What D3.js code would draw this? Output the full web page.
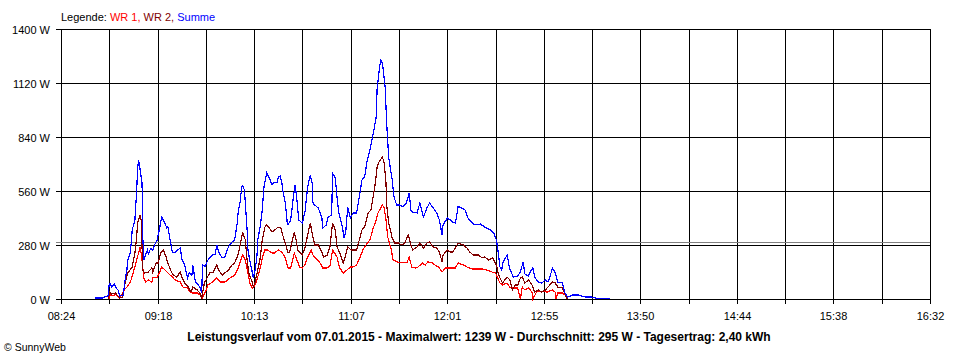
<!DOCTYPE html>
<html>
<head>
<meta charset="utf-8">
<script src="https://cdn.jsdelivr.net/npm/d3@7"></script>
<style>
  html, body { margin: 0; padding: 0; background: #fff; }
  svg { display: block; }
  text { font-family: "Liberation Sans", Arial, sans-serif; }
</style>
</head>
<body>
<svg id="chart" width="960" height="360"></svg>
<script>
// ---------------- DATA ----------------
const day = "2015-01-07";
const timeStart = "08:24:00";
const timeEnd = "16:32:00";
const xTickLabels = ["08:24", "09:18", "10:13", "11:07", "12:01", "12:55", "13:50", "14:44", "15:38", "16:32"];
const yTicks = [0, 280, 560, 840, 1120, 1400];
const yTickLabels = ["0 W", "280 W", "560 W", "840 W", "1120 W", "1400 W"];
const seriesNames = ["WR 1", "WR 2", "Summe"];
const average = 295;
const maxValue = 1239;
const dailyYield = "2,40 kWh";

const wr1 = [
  ["08:51:00",0],["08:51:30",21],["08:53:00",16],["08:55:00",26],["08:56:00",10],["08:57:00",5],
  ["08:59:30",47],["09:01:00",62],["09:03:00",88],["09:04:30",135],["09:06:30",202],["09:08:00",254],
  ["09:08:30",270],["09:09:30",202],["09:10:30",109],["09:11:30",88],["09:13:00",99],["09:15:00",88],
  ["09:15:30",109],["09:18:00",114],["09:19:30",140],["09:20:30",166],["09:22:30",150],["09:24:00",135],
  ["09:26:30",114],["09:28:00",99],["09:31:00",88],["09:32:30",62],["09:35:00",57],["09:36:30",36],
  ["09:38:00",31],["09:40:30",31],["09:42:00",21],["09:43:30",5],["09:45:30",47],["09:46:30",73],
  ["09:49:00",88],["09:51:30",109],["09:53:30",88],["09:56:00",88],["09:59:00",109],["10:01:30",124],
  ["10:03:30",161],["10:05:00",202],["10:06:00",228],["10:07:30",202],["10:09:00",135],["10:10:00",83],
  ["10:11:30",57],["10:13:00",73],["10:14:30",114],["10:16:30",187],["10:17:30",228],["10:18:30",254],
  ["10:20:00",254],["10:22:30",239],["10:24:00",239],["10:26:00",254],["10:28:00",244],["10:30:00",213],
  ["10:31:30",161],["10:33:00",161],["10:35:00",239],["10:36:30",202],["10:38:00",166],["10:39:30",161],
  ["10:41:00",176],["10:42:30",218],["10:44:30",254],["10:45:30",228],["10:48:00",202],["10:49:30",187],
  ["10:51:00",161],["10:53:30",161],["10:55:00",170],["10:56:30",254],["10:59:00",218],["11:00:30",161],
  ["11:02:30",135],["11:04:30",150],["11:06:30",166],["11:08:00",166],["11:10:00",176],["11:12:00",218],
  ["11:13:30",254],["11:16:00",290],["11:17:30",306],["11:19:00",358],["11:21:00",410],["11:22:00",446],
  ["11:24:30",487],["11:25:30",472],["11:26:30",410],["11:27:30",321],["11:29:30",254],["11:30:30",202],
  ["11:33:00",192],["11:36:00",187],["11:38:30",192],["11:39:30",218],["11:41:00",166],["11:43:00",161],
  ["11:44:30",166],["11:47:00",187],["11:48:30",176],["11:50:00",192],["11:52:30",187],["11:54:00",176],
  ["11:56:00",166],["11:58:00",140],["12:00:00",161],["12:02:30",161],["12:05:30",161],["12:07:00",187],
  ["12:10:00",176],["12:12:00",166],["12:15:00",156],["12:18:00",156],["12:20:30",156],["12:23:00",150],
  ["12:26:00",140],["12:28:00",135],["12:29:00",114],["12:30:30",83],["12:32:00",73],["12:34:30",83],
  ["12:36:00",62],["12:38:00",57],["12:40:30",57],["12:42:00",0],["12:43:00",62],["12:44:30",47],
  ["12:46:30",57],["12:48:30",36],["12:49:00",0],["12:51:00",36],["12:54:00",41],["12:57:00",36],
  ["13:00:00",47],["13:01:30",36],["13:02:00",0],["13:03:00",31],["13:05:30",31],["13:07:00",21],
  ["13:08:00",5]
];

const wr2 = [
  ["08:50:30",0],["08:51:30",36],["08:52:30",26],["08:54:30",31],["08:56:00",16],["08:57:00",5],
  ["08:58:30",10],["09:00:00",83],["09:01:30",135],["09:04:00",166],["09:05:30",239],["09:06:30",321],
  ["09:07:00",394],["09:08:30",436],["09:09:00",410],["09:09:30",270],["09:10:00",150],["09:11:00",135],
  ["09:13:00",140],["09:15:00",161],["09:15:30",140],["09:17:30",187],["09:18:30",187],["09:20:00",239],
  ["09:21:30",254],["09:23:00",218],["09:24:00",187],["09:26:00",140],["09:27:00",124],["09:29:00",114],
  ["09:31:00",140],["09:32:00",109],["09:33:30",83],["09:35:30",62],["09:37:00",36],["09:38:00",62],
  ["09:40:30",47],["09:42:00",31],["09:43:00",5],["09:44:30",83],["09:46:00",109],["09:47:30",135],
  ["09:49:30",140],["09:51:30",176],["09:52:30",150],["09:54:30",124],["09:56:00",135],["09:58:00",150],
  ["10:00:00",176],["10:01:30",187],["10:03:00",218],["10:04:00",254],["10:05:30",321],["10:06:00",347],
  ["10:07:30",306],["10:08:30",202],["10:09:30",135],["10:11:30",83],["10:12:00",62],["10:13:00",88],
  ["10:14:30",150],["10:16:00",218],["10:17:00",306],["10:18:30",373],["10:19:30",384],["10:21:00",368],
  ["10:22:30",347],["10:24:00",358],["10:26:00",373],["10:27:30",368],["10:28:30",332],["10:30:30",270],
  ["10:31:30",239],["10:32:30",244],["10:33:30",290],["10:35:00",347],["10:36:00",306],["10:37:00",254],
  ["10:39:30",228],["10:41:00",264],["10:42:30",332],["10:44:00",394],["10:45:00",342],["10:46:30",280],
  ["10:48:30",280],["10:50:30",244],["10:51:30",218],["10:53:30",228],["10:55:00",270],["10:56:30",394],
  ["10:58:00",358],["10:59:00",270],["11:00:30",239],["11:02:30",187],["11:03:30",213],["11:05:00",270],
  ["11:07:00",254],["11:10:00",254],["11:11:30",306],["11:13:00",358],["11:14:30",373],["11:16:30",446],
  ["11:18:00",461],["11:19:00",513],["11:20:30",601],["11:21:30",684],["11:22:30",710],["11:24:30",736],
  ["11:25:30",705],["11:26:30",601],["11:27:00",477],["11:28:00",394],["11:30:00",316],["11:31:30",290],
  ["11:33:30",290],["11:35:30",280],["11:37:00",290],["11:39:00",332],["11:40:30",280],["11:41:30",254],
  ["11:44:00",270],["11:45:30",290],["11:47:30",264],["11:49:30",290],["11:51:00",296],["11:53:00",270],
  ["11:55:00",264],["11:56:30",244],["11:58:00",192],["11:58:30",228],["12:01:00",254],["12:02:30",244],
  ["12:04:00",244],["12:07:00",290],["12:10:00",280],["12:12:00",264],["12:13:30",244],["12:15:30",228],
  ["12:18:30",228],["12:20:30",213],["12:22:00",218],["12:24:00",202],["12:26:30",213],["12:27:00",202],
  ["12:28:30",176],["12:29:30",135],["12:30:30",109],["12:32:00",83],["12:34:30",114],["12:36:00",99],
  ["12:37:30",47],["12:39:00",73],["12:40:30",73],["12:42:00",109],["12:43:00",114],["12:44:30",83],
  ["12:46:30",99],["12:48:30",73],["12:50:00",36],["12:52:00",47],["12:54:00",36],["12:56:00",47],
  ["12:57:30",62],["13:00:00",88],["13:01:30",83],["13:03:00",62],["13:05:30",57],["13:07:00",26],
  ["13:08:00",5],["13:08:30",0]
];

const summe = [
  ["08:43:00",5],["08:47:30",5],["08:48:30",10],["08:50:30",16],["08:51:00",73],["08:51:30",83],
  ["08:52:30",62],["08:54:00",78],["08:55:00",57],["08:56:00",47],["08:57:00",16],["08:59:00",21],
  ["09:00:00",99],["09:01:00",150],["09:01:30",202],["09:03:00",244],["09:04:00",358],["09:05:30",410],
  ["09:06:30",565],["09:07:00",669],["09:07:30",720],["09:08:00",700],["09:09:30",601],["09:10:00",306],
  ["09:10:30",202],["09:12:30",254],["09:13:00",233],["09:14:30",264],["09:15:30",254],["09:17:00",290],
  ["09:18:00",306],["09:19:30",373],["09:20:30",425],["09:22:00",399],["09:23:30",368],["09:24:00",375],
  ["09:25:00",321],["09:26:30",244],["09:28:00",239],["09:29:30",254],["09:31:00",264],["09:32:00",202],
  ["09:33:30",176],["09:35:00",109],["09:36:00",135],["09:37:30",124],["09:38:00",176],["09:39:30",88],
  ["09:41:00",73],["09:42:00",62],["09:43:00",31],["09:43:30",176],["09:45:00",170],["09:46:30",202],
  ["09:49:00",228],["09:50:30",233],["09:51:30",280],["09:52:30",244],["09:54:30",213],["09:56:00",218],
  ["09:58:00",270],["10:00:00",296],["10:01:30",306],["10:03:00",394],["10:03:30",451],["10:04:30",498],
  ["10:05:30",581],["10:06:00",586],["10:07:00",565],["10:07:30",498],["10:08:30",358],["10:09:00",254],
  ["10:10:00",202],["10:11:30",135],["10:12:00",109],["10:13:00",150],["10:14:00",218],["10:14:30",306],
  ["10:16:00",384],["10:17:00",461],["10:18:00",581],["10:19:30",653],["10:20:00",643],["10:21:30",617],
  ["10:22:30",591],["10:23:00",601],["10:25:30",607],["10:26:00",633],["10:27:00",638],["10:28:00",607],
  ["10:28:30",565],["10:30:00",498],["10:31:00",399],["10:31:30",384],["10:33:00",410],["10:34:30",529],
  ["10:35:30",591],["10:36:30",513],["10:37:30",410],["10:39:30",394],["10:41:00",451],["10:42:30",581],
  ["10:44:00",643],["10:45:00",601],["10:45:30",498],["10:46:30",487],["10:48:30",472],["10:50:30",420],
  ["10:51:00",368],["10:53:00",384],["10:54:00",425],["10:55:00",430],["10:56:00",436],["10:56:30",653],
  ["10:58:00",627],["10:59:00",529],["11:00:00",446],["11:02:00",373],["11:03:00",316],["11:04:00",358],
  ["11:05:00",477],["11:06:30",420],["11:08:00",446],["11:10:00",446],["11:11:30",529],["11:13:00",617],
  ["11:14:30",633],["11:16:00",721],["11:17:30",773],["11:19:00",840],["11:21:00",944],["11:21:30",1084],
  ["11:22:30",1172],["11:23:30",1239],["11:24:30",1224],["11:25:00",1187],["11:26:00",1099],["11:27:00",892],
  ["11:28:00",736],["11:30:00",617],["11:31:00",529],["11:32:30",487],["11:34:30",487],["11:36:00",477],
  ["11:38:00",498],["11:39:30",550],["11:40:30",461],["11:41:30",451],["11:44:00",446],["11:45:30",498],
  ["11:47:30",425],["11:49:30",472],["11:51:00",498],["11:53:00",472],["11:55:00",446],["11:56:30",410],
  ["11:58:00",332],["11:58:30",384],["12:01:00",420],["12:02:30",410],["12:04:00",399],["12:05:30",394],
  ["12:07:00",480],["12:09:00",472],["12:11:00",461],["12:12:30",420],["12:15:00",394],["12:16:30",384],
  ["12:19:30",389],["12:22:00",373],["12:25:00",358],["12:27:00",342],["12:28:30",306],["12:29:30",244],
  ["12:30:30",166],["12:31:30",150],["12:32:00",187],["12:34:30",228],["12:36:00",156],["12:38:00",114],
  ["12:40:30",119],["12:42:00",140],["12:43:30",192],["12:44:30",130],["12:46:30",119],["12:47:30",140],
  ["12:49:00",161],["12:50:00",114],["12:52:00",88],["12:54:00",83],["12:56:00",99],["12:57:30",88],
  ["12:58:30",114],["13:00:00",161],["13:01:30",135],["13:03:00",88],["13:05:30",83],["13:07:00",31],
  ["13:08:30",10],["13:11:30",21],["13:14:30",21],["13:18:30",10],["13:22:00",10],["13:25:30",3],
  ["13:32:30",3]
];

// ---------------- CHART ----------------
const W = 960, H = 360;
const margin = { left: 61, right: 30, top: 29, bottom: 61 };
const x0 = margin.left, x1 = W - margin.right;
const y0 = H - margin.bottom, y1 = margin.top;

const parse = d3.timeParse("%Y-%m-%d %H:%M:%S");
const toDate = t => parse(day + " " + t);

const x = d3.scaleTime().domain([toDate(timeStart), toDate(timeEnd)]).range([x0, x1]);
const y = d3.scaleLinear().domain([0, 1400]).range([y0, y1]);

const svg = d3.select("#chart");

// vertical grid positions: 18 equal intervals, labels on every other
const nInt = (xTickLabels.length - 1) * 2;
const dom = x.domain();
const xGridTimes = d3.range(nInt + 1).map(i => new Date(+dom[0] + (dom[1] - dom[0]) * i / nInt));

const g = svg.append("g").attr("shape-rendering", "crispEdges");

// horizontal grid lines
g.selectAll("line.hgrid").data(yTicks).join("line")
  .attr("x1", x0 - 5).attr("x2", x1)
  .attr("y1", d => Math.round(y(d)) + 0.5).attr("y2", d => Math.round(y(d)) + 0.5)
  .attr("stroke", "#000").attr("stroke-width", 1);

// vertical grid lines
g.selectAll("line.vgrid").data(xGridTimes).join("line")
  .attr("x1", d => Math.round(x(d)) + 0.5).attr("x2", d => Math.round(x(d)) + 0.5)
  .attr("y1", y1).attr("y2", y0 + 5)
  .attr("stroke", "#000").attr("stroke-width", 1);

// average line
g.append("line")
  .attr("x1", x0 - 5).attr("x2", x1)
  .attr("y1", Math.round(y(average)) + 0.5).attr("y2", Math.round(y(average)) + 0.5)
  .attr("stroke", "#808080").attr("stroke-width", 1);

// y labels
svg.selectAll("text.ylab").data(yTicks).join("text")
  .attr("x", x0 - 11).attr("y", d => Math.round(y(d)) + 4.5)
  .attr("text-anchor", "end").attr("font-size", 11).attr("fill", "#000")
  .text((d, i) => yTickLabels[i]);

// x labels
svg.selectAll("text.xlab").data(xTickLabels).join("text")
  .attr("x", (d, i) => Math.round(x(xGridTimes[i * 2])) + 0.5).attr("y", y0 + 21)
  .attr("text-anchor", "middle").attr("font-size", 11).attr("fill", "#000")
  .text(d => d);

// series lines
const line = d3.line().x(d => x(toDate(d[0]))).y(d => y(d[1]));
const series = [
  { data: wr1, color: "#ff0000" },
  { data: wr2, color: "#800000" },
  { data: summe, color: "#0000ff" }
];
svg.append("g").selectAll("path").data(series).join("path")
  .attr("d", s => line(s.data))
  .attr("fill", "none")
  .attr("stroke", s => s.color)
  .attr("stroke-width", 1.2)
  .attr("shape-rendering", "crispEdges");

// legend
const leg = svg.append("text").attr("x", x0).attr("y", 20.5).attr("font-size", 11);
leg.append("tspan").attr("fill", "#000").text("Legende: ");
leg.append("tspan").attr("fill", "#ff0000").text(seriesNames[0] + ", ");
leg.append("tspan").attr("fill", "#800000").text(seriesNames[1] + ", ");
leg.append("tspan").attr("fill", "#0000ff").text(seriesNames[2]);

// caption
svg.append("text").attr("x", 479).attr("y", 341).attr("text-anchor", "middle")
  .attr("font-size", 12).attr("font-weight", "bold").attr("fill", "#000")
  .text("Leistungsverlauf vom 07.01.2015 - Maximalwert: " + maxValue + " W - Durchschnitt: " + average + " W - Tagesertrag: " + dailyYield);

// footer
svg.append("text").attr("x", 4).attr("y", 351).attr("font-size", 10.5).attr("fill", "#000")
  .text("© SunnyWeb");
</script>
</body>
</html>
